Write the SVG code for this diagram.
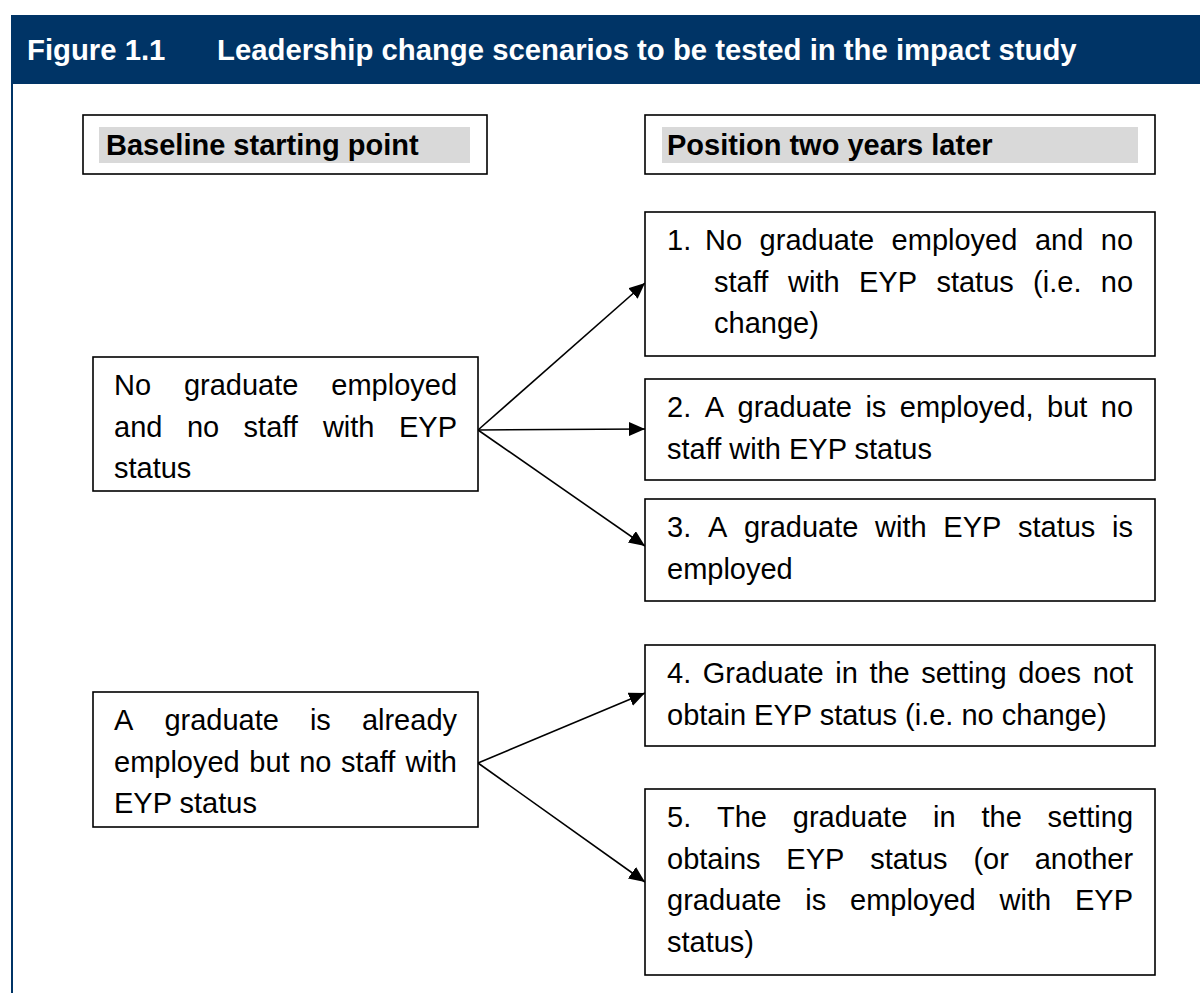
<svg xmlns="http://www.w3.org/2000/svg" width="1200" height="993" viewBox="0 0 1200 993">
<defs>
<style>
.box{fill:#fff;stroke:#000;stroke-width:1.6}
.hl{fill:#d9d9d9}
.t{font-family:"Liberation Sans",Arial,sans-serif;font-size:29px;fill:#000}
.b{font-weight:bold}
.h{font-family:"Liberation Sans",Arial,sans-serif;font-size:29.3px;font-weight:bold;fill:#fff}
.c{stroke:#000;stroke-width:1.6;fill:none;marker-end:url(#ah)}
</style>
<marker id="ah" markerUnits="userSpaceOnUse" markerWidth="17" markerHeight="15" refX="16" refY="7" orient="auto">
<path d="M0,0 L16,7 L0,14 z" fill="#000"/>
</marker>
</defs>
<rect width="1200" height="993" fill="#fff"/>
<g id="header">
<rect x="11" y="15" width="1189" height="69" fill="#003466"/>
<line x1="12" y1="84" x2="12" y2="993" stroke="#003466" stroke-width="2"/>
<text class="h" x="27" y="60">Figure 1.1</text>
<text class="h" x="217" y="60">Leadership change scenarios to be tested in the impact study</text>
</g>
<g id="label-baseline">
<rect class="box" x="83" y="115" width="404" height="59"/>
<rect class="hl" x="99" y="127" width="371" height="36"/>
<text class="t b" x="106" y="155">Baseline starting point</text>
</g>
<g id="label-position">
<rect class="box" x="645" y="115" width="510" height="59"/>
<rect class="hl" x="662" y="127" width="476" height="36"/>
<text class="t b" x="667" y="155">Position two years later</text>
</g>
<g id="connectors">
<line class="c" x1="478" y1="430" x2="645" y2="283"/>
<line class="c" x1="478" y1="430" x2="645" y2="429"/>
<line class="c" x1="478" y1="430" x2="645" y2="546"/>
<line class="c" x1="478" y1="763" x2="645" y2="693"/>
<line class="c" x1="478" y1="763" x2="645" y2="882"/>
</g>
<g id="baseA">
<rect class="box" x="93" y="357" width="385" height="134"/>
<text class="t" y="395"><tspan x="114">No</tspan><tspan x="183.9">graduate</tspan><tspan x="331.3">employed</tspan></text>
<text class="t" y="436.5"><tspan x="114">and</tspan><tspan x="186.9">no</tspan><tspan x="243.6">staff</tspan><tspan x="322.9">with</tspan><tspan x="399">EYP</tspan></text>
<text class="t" x="114" y="478">status</text>
</g>
<g id="baseB">
<rect class="box" x="93" y="692" width="385" height="135"/>
<text class="t" y="730"><tspan x="114">A</tspan><tspan x="164.4">graduate</tspan><tspan x="309.9">is</tspan><tspan x="361.9">already</tspan></text>
<text class="t" y="771.5"><tspan x="114">employed</tspan><tspan x="249.3">but</tspan><tspan x="299.2">no</tspan><tspan x="341.1">staff</tspan><tspan x="405.4">with</tspan></text>
<text class="t" x="114" y="813">EYP status</text>
</g>
<g id="pos1">
<rect class="box" x="645" y="212" width="510" height="144"/>
<text class="t" y="250"><tspan x="667">1.</tspan><tspan x="705">No</tspan><tspan x="759.6">graduate</tspan><tspan x="891.6">employed</tspan><tspan x="1034.9">and</tspan><tspan x="1100.8">no</tspan></text>
<text class="t" y="291.5"><tspan x="714">staff</tspan><tspan x="788.1">with</tspan><tspan x="859">EYP</tspan><tspan x="936.4">status</tspan><tspan x="1033.1">(i.e.</tspan><tspan x="1100.8">no</tspan></text>
<text class="t" x="714" y="333">change)</text>
</g>
<g id="pos2">
<rect class="box" x="645" y="379" width="510" height="101"/>
<text class="t" y="417"><tspan x="667">2.</tspan><tspan x="704.7">A</tspan><tspan x="737.5">graduate</tspan><tspan x="865.4">is</tspan><tspan x="899.8">employed,</tspan><tspan x="1047">but</tspan><tspan x="1100.8">no</tspan></text>
<text class="t" x="667" y="458.5">staff with EYP status</text>
</g>
<g id="pos3">
<rect class="box" x="645" y="499" width="510" height="102"/>
<text class="t" y="537"><tspan x="667">3.</tspan><tspan x="707.9">A</tspan><tspan x="743.9">graduate</tspan><tspan x="875.1">with</tspan><tspan x="943.3">EYP</tspan><tspan x="1018">status</tspan><tspan x="1112.1">is</tspan></text>
<text class="t" x="667" y="578.5">employed</text>
</g>
<g id="pos4">
<rect class="box" x="645" y="645" width="510" height="101"/>
<text class="t" y="683"><tspan x="667">4.</tspan><tspan x="702.8">Graduate</tspan><tspan x="835.2">in</tspan><tspan x="869.4">the</tspan><tspan x="921.2">setting</tspan><tspan x="1018.2">does</tspan><tspan x="1092.7">not</tspan></text>
<text class="t" x="667" y="724.5">obtain EYP status (i.e. no change)</text>
</g>
<g id="pos5">
<rect class="box" x="645" y="789" width="510" height="186"/>
<text class="t" y="827"><tspan x="667">5.</tspan><tspan x="717">The</tspan><tspan x="792.8">graduate</tspan><tspan x="933.1">in</tspan><tspan x="981.5">the</tspan><tspan x="1047.6">setting</tspan></text>
<text class="t" y="868.5"><tspan x="667">obtains</tspan><tspan x="786.3">EYP</tspan><tspan x="870.2">status</tspan><tspan x="973.4">(or</tspan><tspan x="1034.7">another</tspan></text>
<text class="t" y="910"><tspan x="667">graduate</tspan><tspan x="805.3">is</tspan><tspan x="850">employed</tspan><tspan x="999.6">with</tspan><tspan x="1075">EYP</tspan></text>
<text class="t" x="667" y="951.5">status)</text>
</g>
</svg>
